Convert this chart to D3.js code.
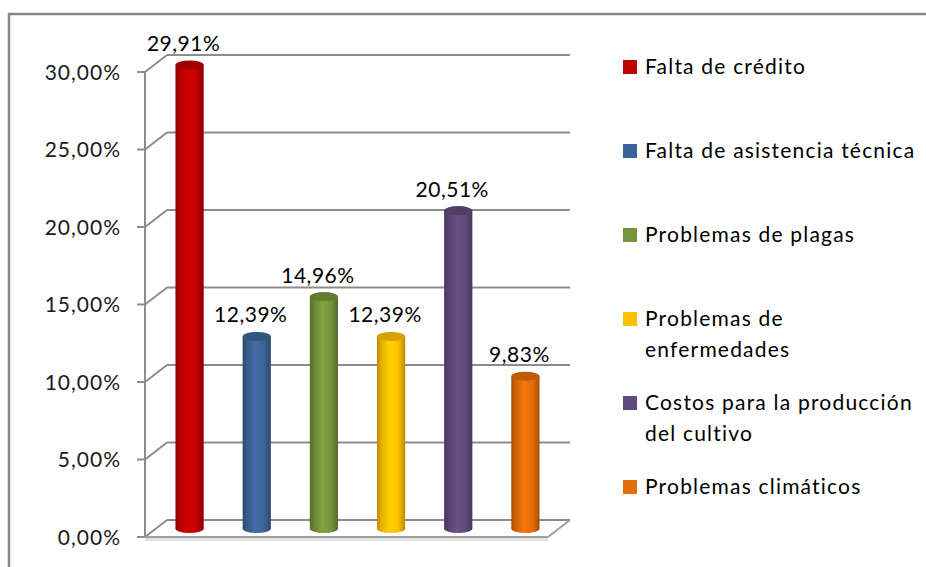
<!DOCTYPE html>
<html>
<head>
<meta charset="utf-8">
<script src="https://cdn.jsdelivr.net/npm/d3@7"></script>
<style>
  body { margin: 0; background: #fff; }
  text { font-family: Lato, "Open Sans", sans-serif; fill: #000; }
</style>
</head>
<body>
<div id="chart"></div>
<script>
// data
var categories = ["Falta de crédito", "Falta de asistencia técnica", "Problemas de plagas",
                  "Problemas de enfermedades", "Costos para la producción del cultivo", "Problemas climáticos"];
var values = [0.2991, 0.1239, 0.1496, 0.1239, 0.2051, 0.0983];
var legendLines = [["Falta de crédito"], ["Falta de asistencia técnica"], ["Problemas de plagas"],
                   ["Problemas de", "enfermedades"], ["Costos para la producción", "del cultivo"], ["Problemas climáticos"]];
var colors = ["#c00000", "#3b6598", "#77933c", "#ffc000", "#604a7b", "#e46c0a"];
var yTicks = [0, 0.05, 0.10, 0.15, 0.20, 0.25, 0.30];

var width = 926, height = 567;
// depth of the 3d box
var dx = 22, dy = -17;

var svg = d3.select("#chart")
  .append("svg")
  .attr("width", width)
  .attr("height", height);

var defs = svg.append("defs");

// outer frame (cut off on the right and bottom like the picture)
svg.append("rect")
  .attr("x", 9).attr("y", 14)
  .attr("width", 940).attr("height", 600)
  .attr("fill", "none")
  .attr("stroke", "#868686")
  .attr("stroke-width", 2.5);

// scales for the front plane
var y = d3.scaleLinear().domain([0, 0.30]).range([537, 72]);
var x = d3.scaleBand().domain(categories).range([145, 548]).paddingInner(0).paddingOuter(0);

var fmt = function(v) { return d3.format(".2f")(v * 100).replace(".", ",") + "%"; };

// floor shadow
svg.append("rect")
  .attr("x", 145).attr("y", 538)
  .attr("width", 403).attr("height", 3)
  .attr("fill", "#e3e3e3");

// back wall gridlines + left wall diagonals
var grid = svg.append("g").attr("stroke", "#8c8c8c").attr("stroke-width", 2).attr("fill", "none");
yTicks.forEach(function(t) {
  grid.append("line")
    .attr("x1", 145 + dx).attr("x2", 548 + dx)
    .attr("y1", y(t) + dy).attr("y2", y(t) + dy);
  grid.append("line")
    .attr("x1", 145).attr("y1", y(t))
    .attr("x2", 145 + dx).attr("y2", y(t) + dy);
  // tick marks
  grid.append("line")
    .attr("x1", 137).attr("x2", 145)
    .attr("y1", y(t)).attr("y2", y(t));
});
// vertical axis
grid.append("line")
  .attr("x1", 145).attr("x2", 145)
  .attr("y1", y(0.30)).attr("y2", y(0));
// floor front edge and right diagonal
grid.append("line")
  .attr("x1", 145).attr("x2", 548)
  .attr("y1", y(0)).attr("y2", y(0))
  .attr("stroke", "#a0a0a0");
grid.append("line")
  .attr("x1", 548).attr("y1", y(0))
  .attr("x2", 548 + dx).attr("y2", y(0) + dy)
  .attr("stroke", "#a0a0a0");

// tick labels
svg.append("g").selectAll("text")
  .data(yTicks)
  .enter()
  .append("text")
    .attr("x", 121)
    .attr("y", function(d) { return y(d); })
    .attr("dy", "0.36em")
    .attr("text-anchor", "end")
    .style("font-size", "21px")
    .style("letter-spacing", "1px")
    .style("fill", "#1a1a1a")
    .text(fmt);

// gradients for the cylinders
colors.forEach(function(c, i) {
  var g = defs.append("linearGradient").attr("id", "cyl" + i)
    .attr("x1", "0%").attr("x2", "100%").attr("y1", "0%").attr("y2", "0%");
  var base = d3.color(c);
  g.append("stop").attr("offset", "0%").attr("stop-color", base.darker(0.9));
  g.append("stop").attr("offset", "15%").attr("stop-color", base.darker(0.3));
  g.append("stop").attr("offset", "45%").attr("stop-color", base.brighter(0.25));
  g.append("stop").attr("offset", "75%").attr("stop-color", base);
  g.append("stop").attr("offset", "100%").attr("stop-color", base.darker(0.9));
});

// bars sit in the middle of the depth
var mx = dx / 2, my = dy / 2;
var bw = x.bandwidth() * 0.42;
var ry = 4.5;

var bars = svg.append("g").selectAll("g")
  .data(categories)
  .enter()
  .append("g");

bars.append("ellipse")
  .attr("cx", function(d) { return x(d) + x.bandwidth() / 2 + mx; })
  .attr("cy", y(0) + my)
  .attr("rx", bw / 2).attr("ry", ry)
  .attr("fill", function(d, i) { return "url(#cyl" + i + ")"; });

bars.append("rect")
  .attr("x", function(d) { return x(d) + x.bandwidth() / 2 + mx - bw / 2; })
  .attr("y", function(d, i) { return y(values[i]) + my; })
  .attr("width", bw)
  .attr("height", function(d, i) { return y(0) - y(values[i]); })
  .attr("fill", function(d, i) { return "url(#cyl" + i + ")"; });

bars.append("ellipse")
  .attr("cx", function(d) { return x(d) + x.bandwidth() / 2 + mx; })
  .attr("cy", function(d, i) { return y(values[i]) + my; })
  .attr("rx", bw / 2).attr("ry", ry)
  .attr("fill", function(d, i) { return d3.color(colors[i]).darker(0.5); });

// value labels
bars.append("text")
  .attr("x", function(d) { return x(d) + x.bandwidth() / 2 + mx - 6; })
  .attr("y", function(d, i) { return y(values[i]) + my - 14; })
  .attr("text-anchor", "middle")
  .style("font-size", "21px")
  .style("letter-spacing", "0.5px")
  .text(function(d, i) { return fmt(values[i]); });

// legend
var legend = svg.append("g").selectAll("g")
  .data(legendLines)
  .enter()
  .append("g")
  .attr("transform", function(d, i) { return "translate(623," + (67 + i * 84) + ")"; });

legend.append("rect")
  .attr("x", 0).attr("y", -7)
  .attr("width", 14).attr("height", 14)
  .attr("fill", function(d, i) { return colors[i]; });

legend.append("text")
  .attr("x", 22)
  .style("font-size", "21px")
  .style("letter-spacing", "1.2px")
  .selectAll("tspan")
  .data(function(d) { return d; })
  .enter()
  .append("tspan")
    .attr("x", 22)
    .attr("y", function(d, j) { return j * 31; })
    .attr("dy", "0.35em")
    .text(function(d) { return d; });
</script>
</body>
</html>
